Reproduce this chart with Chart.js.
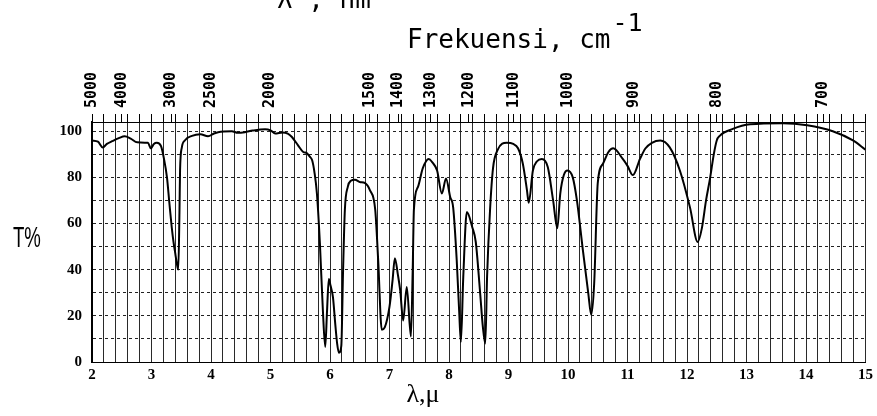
<!DOCTYPE html>
<html><head><meta charset="utf-8">
<script src="https://cdn.jsdelivr.net/npm/chart.js@4"></script>
<style>html,body{margin:0;padding:0;background:#fff}#wrap{width:877px;height:416px;}</style>
</head><body><div id="wrap"><canvas id="c" width="877" height="416"></canvas></div>
<script>
const wavelengthTicks = [2,3,4,5,6,7,8,9,10,11,12,13,14,15];
const wavenumberTicks = [5000,4000,3000,2500,2000,1500,1400,1300,1200,1100,1000,900,800,700];
const transmittanceTicks = [0,20,40,60,80,100];

const wavelength = [
 2.00,2.10,2.18,2.25,2.34,2.45,2.55,2.65,2.76,2.94,2.99,3.04,3.09,3.16,3.21,3.26,3.30,3.34,3.37,3.40,3.43,3.45,3.47,3.48,3.51,3.56,3.68,3.82,3.95,4.05,4.12,4.35,4.45,4.57,4.70,4.91,5.00,5.08,5.20,5.29,5.36,5.46,5.55,5.61,5.66,5.70,5.74,5.78,5.83,5.88,5.92,5.95,5.98,6.01,6.05,6.09,6.12,6.15,6.19,6.22,6.25,6.30,6.35,6.42,6.50,6.59,6.67,6.76,6.81,6.87,6.92,7.00,7.05,7.09,7.14,7.18,7.23,7.29,7.36,7.39,7.41,7.48,7.56,7.66,7.72,7.80,7.88,7.95,8.02,8.07,8.13,8.17,8.20,8.24,8.30,8.39,8.45,8.52,8.57,8.61,8.64,8.69,8.74,8.82,8.97,9.08,9.16,9.24,9.31,9.34,9.41,9.48,9.56,9.66,9.75,9.82,9.87,9.93,9.99,10.08,10.15,10.25,10.34,10.39,10.44,10.50,10.59,10.68,10.76,10.92,11.00,11.09,11.21,11.30,11.41,11.55,11.71,11.88,12.05,12.18,12.25,12.32,12.39,12.45,12.50,12.55,12.77,13.06,13.61,14.02,14.45,14.79,15.00
];
const transmittance = [
 96,95.5,93,94.5,95.7,97,97.8,96.8,95.2,95,92.6,94.5,95,93.5,88,80,69,58.4,52,47,42,40,65,83,93,96,98,98.7,97.8,99,99.6,100,99.3,99.6,100.3,100.9,100.4,99,99.5,99,97.5,94,91,90.5,89,87.4,82,73,51.5,22.5,6.5,22,36,33,28,16,8,4,7,40,66,76,78.5,79,78,77.5,74.5,66,44,14,15,24,35,45,38,31,18,32.5,11,40,66,76,84,88,86.5,83,73,79.5,71.5,67,44,22.5,8.7,37,65,58.5,52,31,15,8,37,66,84,92,95,94.5,92.6,86,74.5,69,83,87,88,84.5,70,58,73,81,83,80,70,48.5,30,20.5,34,77.5,86,91,92.6,88,85,81,88,92.5,95,96,93,83,67,52,58,70,80,90,96,98,101,103,103.5,102.6,100,96,92
];

const points = wavelength.map((x, i) => ({x, y: transmittance[i]}));

const textPlugin = {
  id: 'texts',
  afterDraw(chart) {
    const c = chart.ctx;
    c.save();
    c.fillStyle = '#000';
    c.textBaseline = 'alphabetic';
    c.textAlign = 'left';
    c.font = '26px "DejaVu Sans Mono"';
    c.fillText('λ , nm', 277, 8);
    c.fillText('Frekuensi, cm', 407, 48);
    const w = c.measureText('Frekuensi, cm').width;
    c.font = '25px "DejaVu Sans Mono"';
    c.fillText('-1', 407 + w + 2, 31);
    c.save();
    c.translate(13, 247);
    c.scale(0.62, 1);
    c.font = '30px "Liberation Sans"';
    c.fillText('T%', 0, 0);
    c.restore();
    c.textAlign = 'center';
    c.font = '26px "Liberation Serif"';
    c.fillText('λ,μ', 423, 402);
    c.restore();
  }
};

new Chart(document.getElementById('c'), {
  type: 'line',
  data: { datasets: [{
    data: points, borderColor: '#000', borderWidth: 2, pointRadius: 0,
    cubicInterpolationMode: 'monotone', fill: false
  }]},
  options: {
    responsive: false, animation: false,
    layout: { padding: { left: 0, right: 11, top: 0, bottom: 0 } },
    plugins: { legend: { display: false }, tooltip: { enabled: false } },
    scales: {
      x: {
        type: 'linear', position: 'bottom', min: 2, max: 15,
        afterBuildTicks: s => { const t = []; for (let i = 0; i <= 65; i++) t.push({ value: +(2 + i * 0.2).toFixed(1) }); s.ticks = t; },
        afterFit: s => { s.height = 54; },
        ticks: { autoSkip: false, maxRotation: 0, minRotation: 0, padding: 4, color: '#000',
          font: { family: 'Liberation Serif', size: 15, weight: 'bold' },
          callback: v => wavelengthTicks.includes(v) ? String(v) : '' },
        grid: { color: '#2a2a2a', lineWidth: 1, drawTicks: false },
        border: { display: true, color: '#000', width: 1 }
      },
      xTop: {
        type: 'linear', position: 'top', min: 2, max: 15,
        afterBuildTicks: s => {
          const t = [];
          for (let i = 0; i <= 65; i++) t.push({ value: +(2 + i * 0.2).toFixed(1) });
          wavenumberTicks.forEach(wn => t.push({ value: 10000 / wn, wn }));
          t.sort((a, b) => a.value - b.value);
          s.ticks = t;
        },
        afterFit: s => { s.height = 122; },
        ticks: { autoSkip: false, minRotation: 90, maxRotation: 90, padding: 6, labelOffset: 18, color: '#000',
          font: { family: 'DejaVu Sans Mono', size: 15, weight: 'bold' },
          callback: (v, i, t) => (t[i] && t[i].wn) ? String(t[i].wn) : '' },
        grid: { drawOnChartArea: false, drawTicks: true, tickLength: 8, tickColor: '#000', tickWidth: 1 },
        border: { display: true, color: '#000', width: 1 }
      },
      y: {
        min: 0, max: 104,
        afterBuildTicks: s => { const t = []; for (let v = 0; v <= 100; v += 10) t.push({ value: v }); s.ticks = t; },
        afterFit: s => { s.width = 92; },
        ticks: { padding: 10, color: '#000', font: { family: 'Liberation Serif', size: 15, weight: 'bold' },
          callback: v => transmittanceTicks.includes(v) ? String(v) : '' },
        grid: { color: '#222', lineWidth: 1, drawTicks: false },
        border: { display: true, color: '#000', width: 2, dash: [3, 3] }
      }
    }
  },
  plugins: [textPlugin]
});
</script>
</body></html>
